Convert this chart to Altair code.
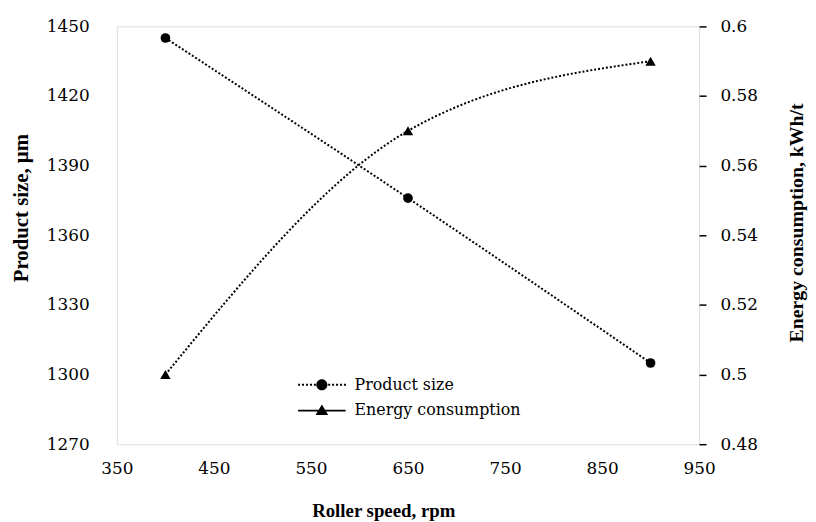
import altair as alt
import pandas as pd

# ---- data ----
speed = [400, 650, 900]
product_size = [1445, 1376, 1305]
energy = [0.50, 0.57, 0.59]
series_names = ["Product size", "Energy consumption"]
x_ticks = [350, 450, 550, 650, 750, 850, 950]
left_ticks = [1270, 1300, 1330, 1360, 1390, 1420, 1450]
right_ticks = [0.48, 0.50, 0.52, 0.54, 0.56, 0.58, 0.60]

FONT = "Liberation Serif"
LFONT = "DejaVu Serif"

df = pd.DataFrame({"speed": speed, "product": product_size, "energy": energy})
legend_df = pd.DataFrame({"series": series_names, "speed": [None, None], "yv": [None, None]})

x_enc = alt.X(
    "speed:Q",
    scale=alt.Scale(domain=[350, 950], nice=False, zero=False),
    axis=alt.Axis(
        values=x_ticks, title="Roller speed, rpm", ticks=False, domain=False, grid=False,
        format="d", labelFlush=False,
        labelFont=LFONT, labelFontSize=17, labelColor="black", labelPadding=17,
        titleFont=FONT, titleFontSize=19, titleFontWeight="bold", titleColor="black",
        titleX=269, titleY=67, titleBaseline="middle", titleAlign="center",
    ),
)

left_y = alt.Y(
    "product:Q",
    scale=alt.Scale(domain=[1270, 1450], nice=False, zero=False),
    axis=alt.Axis(
        values=left_ticks, title="Product size, µm", ticks=False, domain=False, grid=False,
        format="d", labelFlush=False,
        labelFont=LFONT, labelFontSize=17, labelColor="black", labelPadding=28,
        titleFont=FONT, titleFontSize=21, titleFontWeight="bold", titleColor="black",
        titleX=-96, titleY=183, titleBaseline="middle", titleAlign="center", titleAngle=270,
    ),
)

right_y = alt.Y(
    "energy:Q",
    scale=alt.Scale(domain=[0.48, 0.60], nice=False, zero=False),
    axis=alt.Axis(
        orient="right", values=right_ticks, title="Energy consumption, kWh/t",
        format="~g", labelFlush=False,
        ticks=True, tickSize=7, tickColor="black", tickWidth=1.5, domain=False, grid=False,
        labelFont=LFONT, labelFontSize=17, labelColor="black", labelPadding=14,
        titleFont=FONT, titleFontSize=20, titleFontWeight="bold", titleColor="black",
        titleX=98, titleY=198, titleBaseline="middle", titleAlign="center", titleAngle=270,
    ),
)

dot = [2, 2]

p_base = alt.Chart(df).encode(x=x_enc, y=left_y)
p_line = p_base.mark_line(color="black", strokeWidth=2, strokeDash=dot, interpolate="monotone")
p_pts = p_base.mark_point(filled=True, shape="circle", size=95, color="black", opacity=1)
left = alt.layer(p_line, p_pts)

e_base = alt.Chart(df).encode(x=x_enc, y=right_y)
e_line = e_base.mark_line(color="black", strokeWidth=2, strokeDash=dot, interpolate="monotone")
e_pts = e_base.mark_point(filled=True, shape="triangle-up", size=110, color="black", opacity=1)
right = alt.layer(e_line, e_pts)

# legend symbols as filled SVG paths (unit = 7.5 px at symbolSize 225)
def dots(starts):
    return "".join(f"M{s:.2f},-0.13h0.27v0.26h-0.27Z" for s in starts)

circle_path = (
    dots([-3.2, -2.67, -2.13, -1.6, -1.07])
    + "M-0.75,0A0.75,0.75,0,1,1,0.75,0A0.75,0.75,0,1,1,-0.75,0Z"
    + dots([0.85, 1.38, 1.91, 2.44, 2.97])
)
tri_path = "M-3.2,-0.12H3.2V0.12H-3.2ZM0,-0.8L0.85,0.6L-0.85,0.6Z"

leg = alt.Legend(
    title=None, orient="none", legendX=199, legendY=354,
    labelFont=LFONT, labelFontSize=16, labelColor="black", labelOffset=25, labelLimit=400,
    symbolSize=225, symbolFillColor="black", symbolStrokeColor="black",
    symbolStrokeWidth=0, rowPadding=10,
)
legend_layer = alt.Chart(legend_df).mark_point(
    filled=True, color="black", opacity=1
).encode(
    x=alt.X("speed:Q"),
    y=alt.Y("yv:Q", axis=None),
    shape=alt.Shape("series:N", scale=alt.Scale(domain=series_names, range=[circle_path, tri_path]), legend=leg),
)

chart = alt.layer(left, right, legend_layer).resolve_scale(y="independent").properties(
    width=588, height=422,
    autosize=alt.AutoSizeParams(type="none"),
    padding={"left": 110, "top": 16, "right": 110, "bottom": 76},
).configure_view(stroke="black", strokeWidth=2).configure(background="white")

chart.save("out.html", embed_options={"renderer": "svg", "actions": False})
